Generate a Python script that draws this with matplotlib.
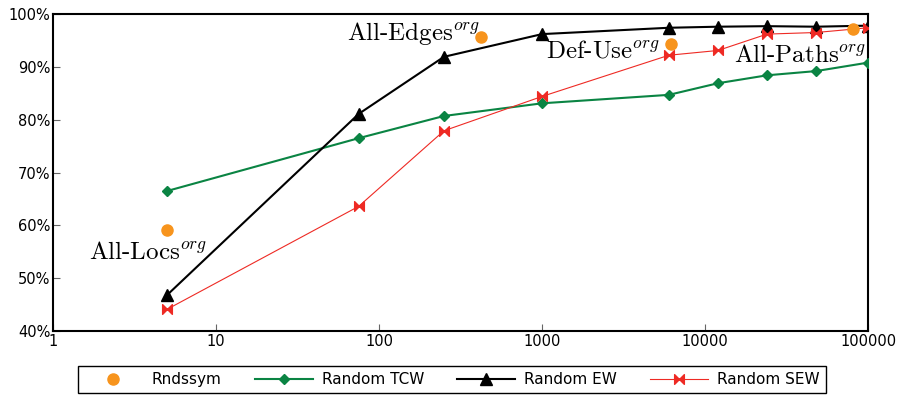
import numpy as np
import matplotlib
matplotlib.use("Agg")
import matplotlib.pyplot as plt
from matplotlib.path import Path
from matplotlib.ticker import FixedLocator, FuncFormatter, NullLocator

plt.rcParams["mathtext.fontset"] = "cm"

# --- data (coverage %, vs. number of tests) ---
tcw_x = [5, 75, 250, 1000, 6000, 12000, 24000, 48000, 100000]
tcw_y = [66.5, 76.5, 80.7, 83.1, 84.7, 86.9, 88.4, 89.2, 90.8]

ew_x = [5, 75, 250, 1000, 6000, 12000, 24000, 48000, 100000]
ew_y = [46.8, 81.1, 91.9, 96.2, 97.4, 97.6, 97.7, 97.6, 97.8]

sew_x = [5, 75, 250, 1000, 6000, 12000, 24000, 48000, 100000]
sew_y = [44.1, 63.6, 77.9, 84.4, 92.2, 93.1, 96.2, 96.5, 97.4]

rnd_x = [5, 420, 6200, 81000]
rnd_y = [59.2, 95.6, 94.4, 97.2]
rnd_labels = [r"All-Locs$^{org}$", r"All-Edges$^{org}$", r"Def-Use$^{org}$", r"All-Paths$^{org}$"]
# label anchor offsets in points (left/baseline)
rnd_offsets = [(-56, -21), (-96, -2), (-90, -10), (-86, -24)]

x_ticks = [1, 10, 100, 1000, 10000, 100000]
y_ticks = [40, 50, 60, 70, 80, 90, 100]

# bow-tie marker for Random SEW
bowtie = Path([(-1, -1), (0, 0), (-1, 1), (-1, -1),
               (1, 1), (0, 0), (1, -1), (1, 1)],
              [Path.MOVETO, Path.LINETO, Path.LINETO, Path.CLOSEPOLY,
               Path.MOVETO, Path.LINETO, Path.LINETO, Path.CLOSEPOLY])

green = "#0a8443"
orange = "#f7941d"
red = "#ee2a24"

fig = plt.figure(figsize=(9, 3.95), dpi=100)
ax = fig.add_axes([0.059, 0.162, 0.9055, 0.8025])

ax.plot(rnd_x, rnd_y, "o", color=orange, ms=8, ls="none", label="Rndssym", zorder=4)
ax.plot(tcw_x, tcw_y, "-D", color=green, lw=1.5, ms=5.5, label="Random TCW", zorder=3)
ax.plot(ew_x, ew_y, "-^", color="black", lw=1.5, ms=8, label="Random EW", zorder=3)
ax.plot(sew_x, sew_y, "-", marker=bowtie, color=red, lw=0.8, ms=7, label="Random SEW", zorder=3)

for x, y, lab, (dx, dy) in zip(rnd_x, rnd_y, rnd_labels, rnd_offsets):
    ax.annotate(lab, (x, y), xytext=(dx, dy), textcoords="offset points",
                fontsize=18, family="cmr10", ha="left", va="baseline")

ax.set_xscale("log")
ax.set_xlim(1, 100000)
ax.set_ylim(40, 100)
ax.xaxis.set_major_locator(FixedLocator(x_ticks))
ax.xaxis.set_minor_locator(NullLocator())
ax.xaxis.set_major_formatter(FuncFormatter(lambda v, p: "%d" % v))
ax.yaxis.set_major_locator(FixedLocator(y_ticks))
ax.yaxis.set_major_formatter(FuncFormatter(lambda v, p: "%d%%" % v))
ax.tick_params(direction="in", length=5, width=0.8, labelsize=10.5, pad=2,
               color="#666666")
for s in ax.spines.values():
    s.set_linewidth(1.5)

fig.legend(loc="lower left", bbox_to_anchor=(0.087, 0.005, 0.831, 0.08),
           mode="expand", ncol=4, fontsize=11, fancybox=False,
           edgecolor="black", framealpha=1, handlelength=3.8,
           handletextpad=0.6, borderaxespad=0)

fig.savefig("out.png", dpi=100)
